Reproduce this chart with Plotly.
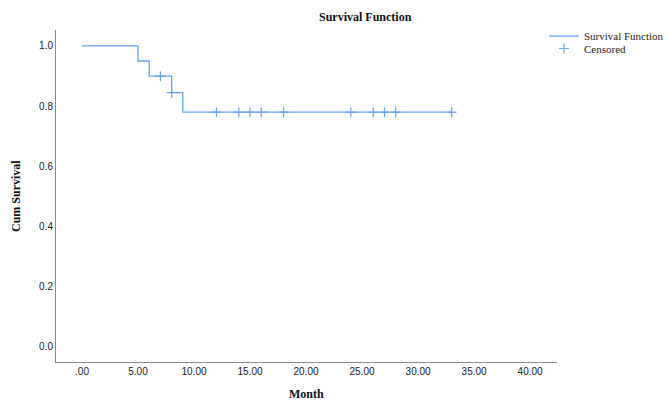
import plotly.graph_objects as go

# Data
event_month = [0, 5, 6, 8, 9, 33]
cum_survival = [1.0, 0.95, 0.90, 0.845, 0.78, 0.78]
censored_month = [7, 8, 12, 14, 15, 16, 18, 24, 26, 27, 28, 33]
x_ticks = [0, 5, 10, 15, 20, 25, 30, 35, 40]
x_tick_labels = [".00", "5.00", "10.00", "15.00", "20.00", "25.00", "30.00", "35.00", "40.00"]
y_ticks = [0.0, 0.2, 0.4, 0.6, 0.8, 1.0]
y_tick_labels = ["0.0", "0.2", "0.4", "0.6", "0.8", "1.0"]


def surv_at(t):
    s = cum_survival[0]
    for et, es in zip(event_month, cum_survival):
        if et <= t:
            s = es
    return s


censored_surv = [surv_at(t) for t in censored_month]

BLUE = "#66a3ee"
SERIF = "Liberation Serif, Times New Roman, serif"
SANS = "Liberation Sans, Arial, sans-serif"

fig = go.Figure()
fig.add_trace(go.Scatter(
    x=event_month, y=cum_survival, mode="lines", name="Survival Function",
    line=dict(color=BLUE, width=1.3, shape="hv"), legend="legend",
))
fig.add_trace(go.Scatter(
    x=censored_month, y=censored_surv, mode="markers", name="Censored",
    marker=dict(symbol="cross-thin", size=7, line=dict(color=BLUE, width=1.2), color=BLUE),
    legend="legend2",
))

leg_common = dict(
    xanchor="left", yanchor="top",
    font=dict(family=SERIF, size=11, color="#222"),
    itemwidth=30, tracegroupgap=0, bgcolor="rgba(0,0,0,0)",
)

fig.update_layout(
    width=668, height=401,
    margin=dict(l=56, r=111, t=30, b=39, autoexpand=False),
    plot_bgcolor="white", paper_bgcolor="white",
    showlegend=True,
    legend=dict(x=0.974, y=1.025, **leg_common),
    legend2=dict(x=0.974, y=0.988, **leg_common),
    xaxis=dict(
        range=[-2.32, 42.4], tickvals=x_ticks, ticktext=x_tick_labels,
        showgrid=False, zeroline=False, showline=True, linecolor="#8a8a8a", linewidth=1,
        ticks="", tickfont=dict(family=SANS, size=10, color="#222"),
    ),
    yaxis=dict(
        range=[-0.05, 1.053], tickvals=y_ticks, ticktext=y_tick_labels,
        showgrid=False, zeroline=False, showline=True, linecolor="#8a8a8a", linewidth=1,
        ticks="", tickfont=dict(family=SANS, size=10, color="#222"),
    ),
    annotations=[
        dict(text="<b>Survival Function</b>", x=0.617, y=1, xref="paper", yref="paper",
             xanchor="center", yanchor="bottom", yshift=4, showarrow=False,
             font=dict(family=SERIF, size=12, color="#111")),
        dict(text="<b>Month</b>", x=0.5, y=0, xref="paper", yref="paper",
             xanchor="center", yanchor="top", yshift=-23, showarrow=False,
             font=dict(family=SERIF, size=12, color="#111")),
        dict(text="<b>Cum Survival</b>", x=0, y=0.5, xref="paper", yref="paper",
             xanchor="right", yanchor="middle", xshift=-31, showarrow=False, textangle=-90,
             font=dict(family=SERIF, size=12, color="#111")),
    ],
)

fig.write_html(
    "out.html",
    config={"displayModeBar": False},
    post_script="document.body.style.margin='0';document.body.style.padding='0';",
)
